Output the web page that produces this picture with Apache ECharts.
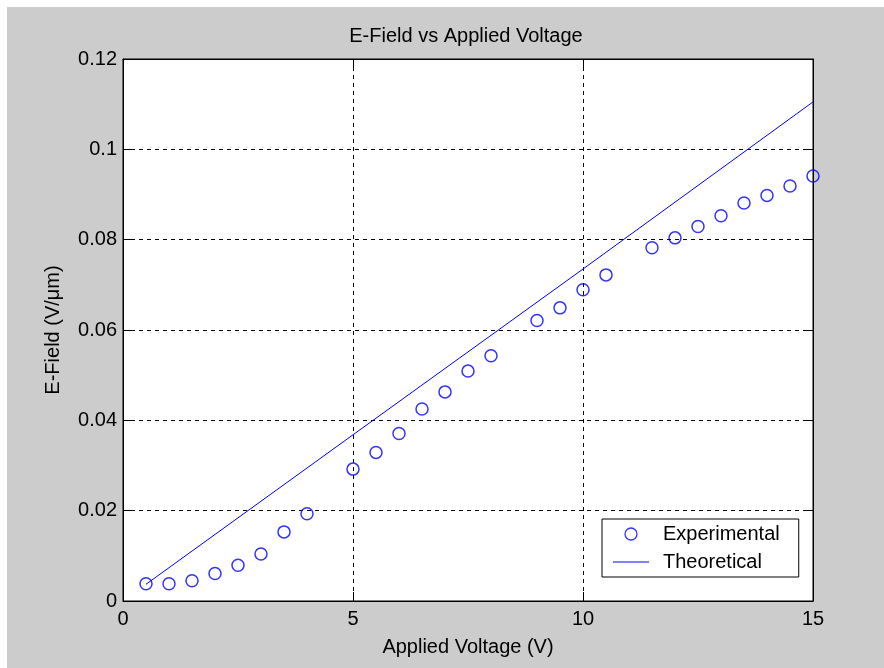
<!DOCTYPE html>
<html>
<head>
<meta charset="utf-8">
<script src="https://cdn.jsdelivr.net/npm/echarts@6/dist/echarts.min.js"></script>
<style>
  html, body { margin: 0; padding: 0; background: #ffffff; }
  #main { position: absolute; left: 7px; top: 7px; width: 877px; height: 661px; }
</style>
</head>
<body>
<div id="main"></div>
<script>
// ---- data ----
const expVoltage = [0.5, 1, 1.5, 2, 2.5, 3, 3.5, 4, 5, 5.5, 6, 6.5, 7, 7.5, 8, 9, 9.5, 10, 10.5, 11.5, 12, 12.5, 13, 13.5, 14, 14.5, 15];
const expField   = [0.0038, 0.0038, 0.0045, 0.0061, 0.0079, 0.0104, 0.0153, 0.0193, 0.0292, 0.0329, 0.0371, 0.0425, 0.0463, 0.0509, 0.0543, 0.0621, 0.0649, 0.0689, 0.0722, 0.0782, 0.0804, 0.0829, 0.0853, 0.0881, 0.0898, 0.0919, 0.0941];
const theoVoltage = [0.5, 5, 10, 15];
const theoField   = [0.0037, 0.0368, 0.0735, 0.1105];
const xTicks = [0, 5, 10, 15];
const yTicks = [0, 0.02, 0.04, 0.06, 0.08, 0.1, 0.12];

const titleText = 'E-Field vs Applied Voltage';
const xName = 'Applied Voltage (V)';
const yName = 'E-Field (V/\u03bcm)';
const seriesNames = ['Experimental', 'Theoretical'];

const FONT = "'Liberation Sans', Arial, sans-serif";
const chart = echarts.init(document.getElementById('main'));

const expPairs = expVoltage.map((v, i) => [v, expField[i]]);
const theoPairs = theoVoltage.map((v, i) => [v, theoField[i]]);

const xMin = xTicks[0], xMax = xTicks[xTicks.length - 1], xStep = xTicks[1] - xTicks[0];
const yMin = yTicks[0], yMax = yTicks[yTicks.length - 1], yStep = yTicks[1] - yTicks[0];

const axisCommon = {
  axisLine: { show: true, onZero: false, lineStyle: { color: '#000', width: 1 } },
  axisTick: { show: true, inside: true, length: 9, lineStyle: { color: '#000', width: 1 } },
};

chart.setOption({
  backgroundColor: '#cccccc',
  animation: false,
  textStyle: { fontFamily: FONT },
  title: {
    text: titleText,
    left: 454,
    top: 14,
    textAlign: 'center',
    textStyle: { fontFamily: FONT, fontSize: 20, fontWeight: 'normal', color: '#000' }
  },
  grid: {
    left: 116, top: 52, right: 71, bottom: 67,
    show: true, backgroundColor: '#ffffff', borderColor: '#000', borderWidth: 1
  },
  legend: {
    left: 595, top: 512,
    orient: 'vertical',
    backgroundColor: '#ffffff',
    borderColor: '#000', borderWidth: 1,
    padding: [5, 19, 5, 11],
    itemWidth: 36, itemHeight: 12, itemGap: 8,
    textStyle: { fontFamily: FONT, fontSize: 20, color: '#000', padding: [0, 0, 0, 9] },
    data: [
      { name: seriesNames[0], icon: 'path://M6,0 A6,6 0 1,1 5.99,0 Z', itemStyle: { color: 'rgba(255,255,255,0)', borderColor: '#0000ff', borderWidth: 1.3 } },
      { name: seriesNames[1], icon: 'path://M0,0 H36 V1 H0 Z', itemStyle: { color: '#0000ff', borderWidth: 0 } }
    ]
  },
  xAxis: [
    Object.assign({
      type: 'value', position: 'bottom', min: xMin, max: xMax, interval: xStep,
      name: xName, nameLocation: 'middle', nameGap: 36,
      nameTextStyle: { fontFamily: FONT, fontSize: 20, color: '#000' },
      axisLabel: { fontFamily: FONT, fontSize: 20, color: '#000', margin: 8 },
      splitLine: { show: true, lineStyle: { color: '#000', type: [4, 4], width: 1 } }
    }, axisCommon),
    Object.assign({
      type: 'value', position: 'top', min: xMin, max: xMax, interval: xStep,
      axisLabel: { show: false }, splitLine: { show: false }
    }, axisCommon)
  ],
  yAxis: [
    Object.assign({
      type: 'value', position: 'left', min: yMin, max: yMax, interval: yStep,
      name: yName, nameLocation: 'middle', nameGap: 60, nameRotate: 90,
      nameTextStyle: { fontFamily: FONT, fontSize: 20, color: '#000' },
      axisLabel: { fontFamily: FONT, fontSize: 20, color: '#000', margin: 6 },
      splitLine: { show: true, lineStyle: { color: '#000', type: [4, 4], width: 1 } }
    }, axisCommon),
    Object.assign({
      type: 'value', position: 'right', min: yMin, max: yMax, interval: yStep,
      axisLabel: { show: false }, splitLine: { show: false }
    }, axisCommon)
  ],
  series: [
    {
      name: seriesNames[0], type: 'scatter',
      symbol: 'circle', symbolSize: 12,
      itemStyle: { color: 'rgba(255,255,255,0)', borderColor: '#0000ff', borderWidth: 1.5 },
      data: expPairs, z: 3
    },
    {
      name: seriesNames[1], type: 'line',
      symbol: 'none', showSymbol: false,
      lineStyle: { color: '#0000ff', width: 1 },
      itemStyle: { color: '#0000ff' },
      data: theoPairs, z: 2
    }
  ]
});
</script>
</body>
</html>
